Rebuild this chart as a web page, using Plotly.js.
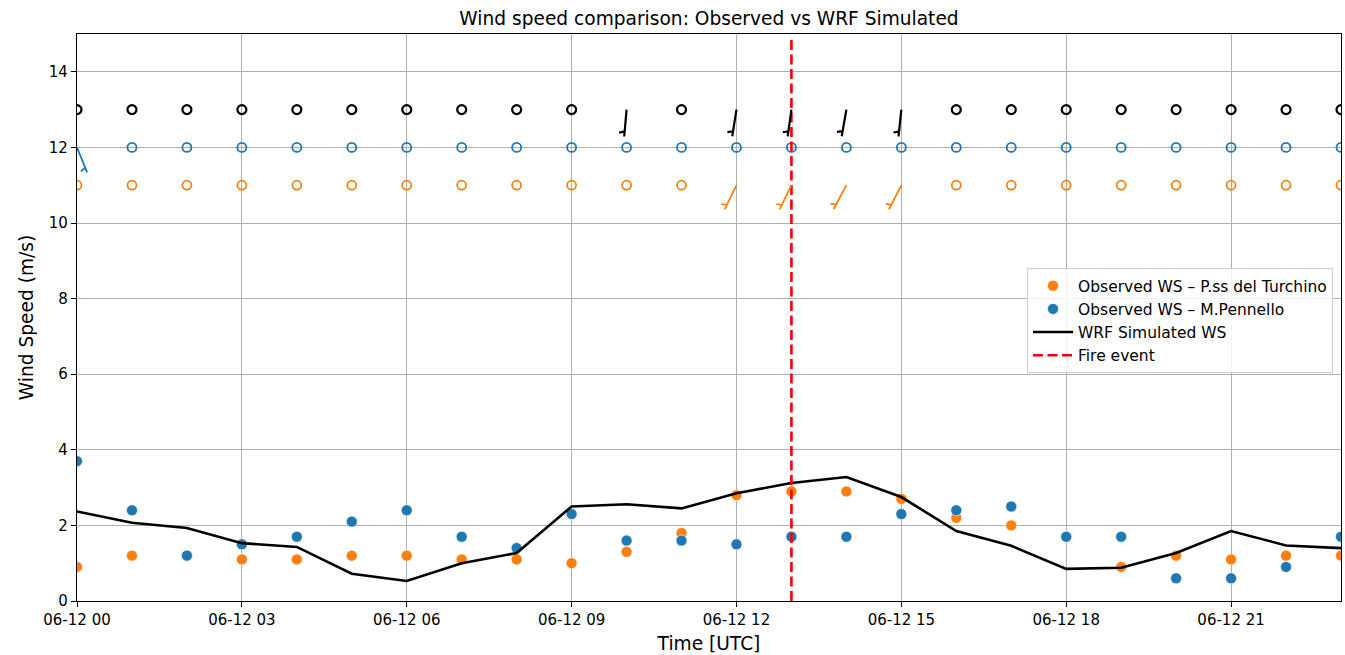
<!DOCTYPE html>
<html>
<head>
<meta charset="utf-8">
<script src="https://cdn.plot.ly/plotly-3.0.1.min.js"></script>
<style>html,body{margin:0;padding:0;background:#fff;}#chart{width:1345px;height:655px;}</style>
</head>
<body>
<div id="chart"></div>
<script>
// ---- Data ----
const hours = ["2024-06-12 00:00","2024-06-12 01:00","2024-06-12 02:00","2024-06-12 03:00","2024-06-12 04:00","2024-06-12 05:00",
  "2024-06-12 06:00","2024-06-12 07:00","2024-06-12 08:00","2024-06-12 09:00","2024-06-12 10:00","2024-06-12 11:00",
  "2024-06-12 12:00","2024-06-12 13:00","2024-06-12 14:00","2024-06-12 15:00","2024-06-12 16:00","2024-06-12 17:00",
  "2024-06-12 18:00","2024-06-12 19:00","2024-06-12 20:00","2024-06-12 21:00","2024-06-12 22:00","2024-06-12 23:00"];
const wsTurchino = [0.9,1.2,1.2,1.1,1.1,1.2,1.2,1.1,1.1,1.0,1.3,1.8,2.8,2.9,2.9,2.7,2.2,2.0,1.7,0.9,1.2,1.1,1.2,1.2];
const wsPennello = [3.7,2.4,1.2,1.5,1.7,2.1,2.4,1.7,1.4,2.3,1.6,1.6,1.5,1.7,1.7,2.3,2.4,2.5,1.7,1.7,0.6,0.6,0.9,1.7];
const wsWRF      = [2.37,2.07,1.93,1.53,1.43,0.72,0.53,1.0,1.27,2.5,2.56,2.45,2.85,3.12,3.28,2.75,1.85,1.46,0.85,0.88,1.27,1.85,1.47,1.4];
// wind direction (degrees, direction the wind blows from); null where calm (direction not readable)
const wdTurchino = [null,null,null,null,null,null,null,null,null,null,null,null,206,206,208,207,null,null,null,null,null,null,null,null];
const wdPennello = [158,null,null,null,null,null,null,null,null,null,null,null,null,null,null,null,null,null,null,null,null,null,null,null];
const wdWRF      = [null,null,null,null,null,null,null,null,null,null,185,null,189,188,190,186,null,null,null,null,null,null,null,null];
const fireTime = "2024-06-12 13:00";
const xTickVals = ["2024-06-12 00:00","2024-06-12 03:00","2024-06-12 06:00","2024-06-12 09:00","2024-06-12 12:00","2024-06-12 15:00","2024-06-12 18:00","2024-06-12 21:00"];
const xTickText = ["06-12 00","06-12 03","06-12 06","06-12 09","06-12 12","06-12 15","06-12 18","06-12 21"];

// ---- Styling / config ----
const ORANGE = "#ff7f0e", BLUE = "#1f77b4";
const barbRows = [
  {ws: wsWRF, wd: wdWRF, level: 13, color: "#000000", lw: 2.2},
  {ws: wsPennello, wd: wdPennello, level: 12, color: BLUE, lw: 1.8},
  {ws: wsTurchino, wd: wdTurchino, level: 11, color: ORANGE, lw: 1.8}
];
const CALM = 2.5;   // speeds at or below this are drawn as an empty circle
const L = 27;       // barb length in px

const shapes = [];
const traces = [];

// calm circles
barbRows.forEach(r => {
  const xs = [], ys = [];
  r.ws.forEach((v, i) => { if (v <= CALM) { xs.push(hours[i]); ys.push(r.level); } });
  traces.push({x: xs, y: ys, type: "scatter", mode: "markers", showlegend: false, hoverinfo: "skip",
    marker: {symbol: "circle-open", size: 9, color: r.color, line: {width: r.lw, color: r.color}}});
});
// barbs (half barb) via pixel-sized shapes
barbRows.forEach(r => {
  r.ws.forEach((v, i) => {
    if (v <= CALM || r.wd[i] === null) return;
    const th = r.wd[i] * Math.PI / 180;
    const ux = Math.sin(th), uy = Math.cos(th);  // towards where wind comes from (y up)
    const px = Math.cos(th), py = -Math.sin(th); // barb side
    const ex = ux * L, ey = uy * L;
    const a = 0.8125 * L;
    const ax = ux * a, ay = uy * a;
    const bx = ax + ux * 0.0625 * L + px * 0.2 * L;
    const by = ay + uy * 0.0625 * L + py * 0.2 * L;
    shapes.push({type: "path", xref: "x", yref: "y", xsizemode: "pixel", ysizemode: "pixel",
      xanchor: hours[i], yanchor: r.level,
      path: `M0,0 L${ex.toFixed(2)},${ey.toFixed(2)} L${ax.toFixed(2)},${ay.toFixed(2)} L${bx.toFixed(2)},${by.toFixed(2)}`,
      line: {color: r.color, width: r.lw}});
  });
});

traces.push({x: hours, y: wsTurchino, type: "scatter", mode: "markers", name: "Observed WS – P.ss del Turchino",
  marker: {color: ORANGE, size: 11, line: {color: "#ffffff", width: 0.6}}});
traces.push({x: hours, y: wsPennello, type: "scatter", mode: "markers", name: "Observed WS – M.Pennello",
  marker: {color: BLUE, size: 11, line: {color: "#ffffff", width: 0.6}}});
traces.push({x: hours, y: wsWRF, type: "scatter", mode: "lines", name: "WRF Simulated WS",
  line: {color: "#000000", width: 2.6}});
traces.push({x: [fireTime, fireTime], y: [0, 14.9], type: "scatter", mode: "lines", name: "Fire event",
  line: {color: "#ff0000", width: 2.6, dash: "10px,4.5px"}});

const layout = {
  width: 1345, height: 655,
  margin: {l: 77, r: 4, t: 34, b: 54},
  paper_bgcolor: "#ffffff", plot_bgcolor: "#ffffff",
  font: {family: "DejaVu Sans, sans-serif", size: 15, color: "#000000"},
  title: {text: "Wind speed comparison: Observed vs WRF Simulated", font: {size: 18.6, color: "#000"},
    xref: "paper", x: 0.5, xanchor: "center", y: 0.972, yanchor: "middle"},
  xaxis: {type: "date", range: [hours[0], hours[hours.length - 1]], tickvals: xTickVals, ticktext: xTickText,
    showgrid: true, gridcolor: "#b0b0b0", gridwidth: 1, zeroline: false,
    showline: true, linecolor: "#000", linewidth: 1.2, mirror: true,
    ticks: "outside", ticklen: 5, tickcolor: "#000", tickfont: {size: 15},
    title: {text: "Time [UTC]", font: {size: 18.6}, standoff: 8}},
  yaxis: {range: [0, 15], tickvals: [0,2,4,6,8,10,12,14], showgrid: true, gridcolor: "#b0b0b0", gridwidth: 1, zeroline: false,
    showline: true, linecolor: "#000", linewidth: 1.2, mirror: true,
    ticks: "outside", ticklen: 5, tickcolor: "#000", tickfont: {size: 15},
    title: {text: "Wind Speed (m/s)", font: {size: 18.6}, standoff: 10}},
  legend: {x: 0.7516, y: 0.587, xanchor: "left", yanchor: "top", bgcolor: "rgba(255,255,255,0.85)",
    bordercolor: "#cccccc", borderwidth: 1, font: {size: 15.5}, tracegroupgap: 0, itemwidth: 40},
  shapes: shapes,
  showlegend: true
};

Plotly.newPlot("chart", traces, layout, {displayModeBar: false, staticPlot: true});
</script>
</body>
</html>
